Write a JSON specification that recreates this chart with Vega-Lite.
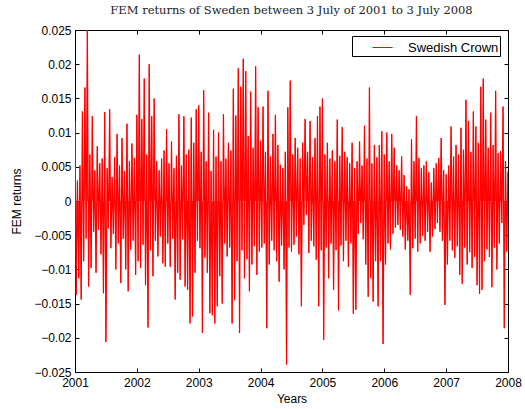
{
"$schema": "https://vega.github.io/schema/vega-lite/v6.json",
"width": 433, "height": 342,
"autosize": {"type": "none"},
"padding": {"left": 75, "top": 30, "right": 17, "bottom": 37},
"background": "white",
"title": {"text": "FEM returns of Sweden between 3 July of 2001 to 3 July 2008", "font": "DejaVu Serif", "fontSize": 11.5, "fontWeight": "normal", "color": "#222222", "offset": 8, "anchor": "middle"},
"config": {
  "view": {"stroke": "black", "strokeWidth": 1},
  "axis": {"domainColor": "black", "domainWidth": 1, "tickColor": "black", "labelColor": "black", "titleColor": "black", "labelFont": "Liberation Sans", "titleFont": "Liberation Sans", "labelFontSize": 12, "titleFontSize": 12, "titleFontWeight": "normal", "grid": false, "tickSize": -4, "labelFlush": false, "labelOverlap": false},
  "legend": {"symbolStrokeColor": "#ff0000"}
},
"data": {"values": [
{"t":2001.00,"r":0.0117},{"t":2001.02,"r":-0.0137},{"t":2001.04,"r":0.003},{"t":2001.06,"r":-0.0113},{"t":2001.08,"r":0.0052},{"t":2001.10,"r":-0.0144},{"t":2001.12,"r":0.0131},{"t":2001.14,"r":-0.0088},{"t":2001.16,"r":0.0166},{"t":2001.18,"r":-0.0055},
{"t":2001.20,"r":0.025},{"t":2001.22,"r":-0.0125},{"t":2001.24,"r":0.0068},{"t":2001.26,"r":-0.0098},{"t":2001.28,"r":0.0124},{"t":2001.30,"r":-0.0045},{"t":2001.32,"r":0.0045},{"t":2001.34,"r":-0.0105},{"t":2001.36,"r":0.008},{"t":2001.38,"r":-0.0042},
{"t":2001.40,"r":0.0055},{"t":2001.42,"r":-0.0078},{"t":2001.44,"r":0.0062},{"t":2001.46,"r":-0.0135},{"t":2001.48,"r":0.013},{"t":2001.50,"r":-0.0206},{"t":2001.52,"r":0.0048},{"t":2001.54,"r":-0.004},{"t":2001.56,"r":0.0134},{"t":2001.58,"r":-0.0069},
{"t":2001.60,"r":0.0035},{"t":2001.62,"r":-0.0048},{"t":2001.64,"r":0.0064},{"t":2001.66,"r":-0.01},{"t":2001.68,"r":0.0098},{"t":2001.70,"r":-0.0062},{"t":2001.72,"r":0.0052},{"t":2001.74,"r":-0.012},{"t":2001.76,"r":0.0092},{"t":2001.78,"r":-0.0055},
{"t":2001.80,"r":0.0044},{"t":2001.82,"r":-0.01},{"t":2001.84,"r":0.0113},{"t":2001.86,"r":-0.0132},{"t":2001.88,"r":0.0058},{"t":2001.90,"r":-0.0071},{"t":2001.92,"r":0.0084},{"t":2001.94,"r":-0.0058},{"t":2001.96,"r":0.0063},{"t":2001.98,"r":-0.0108},
{"t":2002.00,"r":0.0126},{"t":2002.02,"r":-0.0088},{"t":2002.04,"r":0.0214},{"t":2002.06,"r":-0.0098},{"t":2002.08,"r":0.012},{"t":2002.10,"r":-0.0064},{"t":2002.12,"r":0.0179},{"t":2002.14,"r":-0.0123},{"t":2002.16,"r":0.0068},{"t":2002.18,"r":-0.0185},
{"t":2002.20,"r":0.02},{"t":2002.22,"r":-0.0072},{"t":2002.24,"r":0.0124},{"t":2002.26,"r":-0.011},{"t":2002.28,"r":0.015},{"t":2002.30,"r":-0.0058},{"t":2002.32,"r":0.0058},{"t":2002.34,"r":-0.0081},{"t":2002.36,"r":0.0045},{"t":2002.38,"r":-0.0052},
{"t":2002.40,"r":0.0062},{"t":2002.42,"r":-0.0091},{"t":2002.44,"r":0.0074},{"t":2002.46,"r":-0.0096},{"t":2002.48,"r":0.0105},{"t":2002.50,"r":-0.0062},{"t":2002.52,"r":0.0055},{"t":2002.54,"r":-0.0096},{"t":2002.56,"r":0.0087},{"t":2002.58,"r":-0.0055},
{"t":2002.60,"r":0.0048},{"t":2002.62,"r":-0.0144},{"t":2002.64,"r":0.0066},{"t":2002.66,"r":-0.0105},{"t":2002.68,"r":0.0127},{"t":2002.70,"r":-0.0115},{"t":2002.72,"r":0.0052},{"t":2002.74,"r":-0.0056},{"t":2002.76,"r":0.0124},{"t":2002.78,"r":-0.0125},
{"t":2002.80,"r":0.0068},{"t":2002.82,"r":-0.013},{"t":2002.84,"r":0.0075},{"t":2002.86,"r":-0.0179},{"t":2002.88,"r":0.0122},{"t":2002.90,"r":-0.0169},{"t":2002.92,"r":0.0085},{"t":2002.94,"r":-0.0105},{"t":2002.96,"r":0.0134},{"t":2002.98,"r":-0.0058},
{"t":2003.00,"r":0.014},{"t":2003.02,"r":-0.0069},{"t":2003.04,"r":0.0072},{"t":2003.06,"r":-0.0193},{"t":2003.08,"r":0.0162},{"t":2003.10,"r":-0.0083},{"t":2003.12,"r":0.0058},{"t":2003.14,"r":-0.0105},{"t":2003.16,"r":0.0129},{"t":2003.18,"r":-0.0164},
{"t":2003.20,"r":0.0044},{"t":2003.22,"r":-0.0167},{"t":2003.24,"r":0.0104},{"t":2003.26,"r":-0.0179},{"t":2003.28,"r":0.0065},{"t":2003.30,"r":-0.0154},{"t":2003.32,"r":0.01},{"t":2003.34,"r":-0.011},{"t":2003.36,"r":0.0058},{"t":2003.38,"r":-0.015},
{"t":2003.40,"r":0.0127},{"t":2003.42,"r":-0.0062},{"t":2003.44,"r":0.0062},{"t":2003.46,"r":-0.0081},{"t":2003.48,"r":0.0085},{"t":2003.50,"r":-0.0068},{"t":2003.52,"r":0.0074},{"t":2003.54,"r":-0.0179},{"t":2003.56,"r":0.0164},{"t":2003.58,"r":-0.0145},
{"t":2003.60,"r":0.0125},{"t":2003.62,"r":-0.0088},{"t":2003.64,"r":0.0194},{"t":2003.66,"r":-0.0193},{"t":2003.68,"r":0.0167},{"t":2003.70,"r":-0.0072},{"t":2003.72,"r":0.0208},{"t":2003.74,"r":-0.0113},{"t":2003.76,"r":0.019},{"t":2003.78,"r":-0.0085},
{"t":2003.80,"r":0.0095},{"t":2003.82,"r":-0.0132},{"t":2003.84,"r":0.016},{"t":2003.86,"r":-0.0093},{"t":2003.88,"r":0.0078},{"t":2003.90,"r":-0.0066},{"t":2003.92,"r":0.0197},{"t":2003.94,"r":-0.0108},{"t":2003.96,"r":0.0137},{"t":2003.98,"r":-0.0074},
{"t":2004.00,"r":0.0088},{"t":2004.02,"r":-0.0068},{"t":2004.04,"r":0.0138},{"t":2004.06,"r":-0.0062},{"t":2004.08,"r":0.0072},{"t":2004.10,"r":-0.0186},{"t":2004.12,"r":0.0161},{"t":2004.14,"r":-0.0093},{"t":2004.16,"r":0.0065},{"t":2004.18,"r":-0.0058},
{"t":2004.20,"r":0.0098},{"t":2004.22,"r":-0.0072},{"t":2004.24,"r":0.0126},{"t":2004.26,"r":-0.0088},{"t":2004.28,"r":0.0082},{"t":2004.30,"r":-0.0118},{"t":2004.32,"r":0.0053},{"t":2004.34,"r":-0.0065},{"t":2004.36,"r":0.0048},{"t":2004.38,"r":-0.01},
{"t":2004.40,"r":0.0072},{"t":2004.42,"r":-0.0239},{"t":2004.44,"r":0.0137},{"t":2004.46,"r":-0.0068},{"t":2004.48,"r":0.0176},{"t":2004.50,"r":-0.0074},{"t":2004.52,"r":0.0068},{"t":2004.54,"r":-0.0064},{"t":2004.56,"r":0.0092},{"t":2004.58,"r":-0.0052},
{"t":2004.60,"r":0.0078},{"t":2004.62,"r":-0.0078},{"t":2004.64,"r":0.0062},{"t":2004.66,"r":-0.0154},{"t":2004.68,"r":0.0085},{"t":2004.70,"r":-0.0035},{"t":2004.72,"r":0.012},{"t":2004.74,"r":-0.002},{"t":2004.76,"r":0.0072},{"t":2004.78,"r":-0.0076},
{"t":2004.80,"r":0.0117},{"t":2004.82,"r":-0.0058},{"t":2004.84,"r":0.0064},{"t":2004.86,"r":-0.0066},{"t":2004.88,"r":0.0092},{"t":2004.90,"r":-0.0086},{"t":2004.92,"r":0.0124},{"t":2004.94,"r":-0.0154},{"t":2004.96,"r":0.0138},{"t":2004.98,"r":-0.0072},
{"t":2005.00,"r":0.015},{"t":2005.02,"r":-0.0203},{"t":2005.04,"r":0.0068},{"t":2005.06,"r":-0.0068},{"t":2005.08,"r":0.0085},{"t":2005.10,"r":-0.0113},{"t":2005.12,"r":0.0062},{"t":2005.14,"r":-0.0062},{"t":2005.16,"r":0.0074},{"t":2005.18,"r":-0.013},
{"t":2005.20,"r":0.0058},{"t":2005.22,"r":-0.0072},{"t":2005.24,"r":0.0119},{"t":2005.26,"r":-0.016},{"t":2005.28,"r":0.0066},{"t":2005.30,"r":-0.0065},{"t":2005.32,"r":0.0108},{"t":2005.34,"r":-0.0088},{"t":2005.36,"r":0.0072},{"t":2005.38,"r":-0.0058},
{"t":2005.40,"r":0.0064},{"t":2005.42,"r":-0.0096},{"t":2005.44,"r":0.0055},{"t":2005.46,"r":-0.0062},{"t":2005.48,"r":0.0085},{"t":2005.50,"r":-0.0165},{"t":2005.52,"r":0.0048},{"t":2005.54,"r":-0.0159},{"t":2005.56,"r":0.0058},{"t":2005.58,"r":-0.0048},
{"t":2005.60,"r":0.0087},{"t":2005.62,"r":-0.0032},{"t":2005.64,"r":0.0052},{"t":2005.66,"r":-0.0056},{"t":2005.68,"r":0.011},{"t":2005.70,"r":-0.0093},{"t":2005.72,"r":0.0062},{"t":2005.74,"r":-0.014},{"t":2005.76,"r":0.0166},{"t":2005.78,"r":-0.0113},
{"t":2005.80,"r":0.0055},{"t":2005.82,"r":-0.0147},{"t":2005.84,"r":0.0082},{"t":2005.86,"r":-0.0088},{"t":2005.88,"r":0.0064},{"t":2005.90,"r":-0.0154},{"t":2005.92,"r":0.0082},{"t":2005.94,"r":-0.0088},{"t":2005.96,"r":0.0102},{"t":2005.98,"r":-0.0209},
{"t":2006.00,"r":0.0068},{"t":2006.02,"r":-0.0093},{"t":2006.04,"r":0.01},{"t":2006.06,"r":-0.0062},{"t":2006.08,"r":0.0058},{"t":2006.10,"r":-0.0071},{"t":2006.12,"r":0.0098},{"t":2006.14,"r":-0.0048},{"t":2006.16,"r":0.0078},{"t":2006.18,"r":-0.0039},
{"t":2006.20,"r":0.0052},{"t":2006.22,"r":-0.0035},{"t":2006.24,"r":0.0045},{"t":2006.26,"r":-0.0042},{"t":2006.28,"r":0.0065},{"t":2006.30,"r":-0.0052},{"t":2006.32,"r":0.0038},{"t":2006.34,"r":-0.0071},{"t":2006.36,"r":0.0022},{"t":2006.38,"r":-0.0058},
{"t":2006.40,"r":0.0017},{"t":2006.42,"r":-0.0137},{"t":2006.44,"r":0.009},{"t":2006.46,"r":-0.0069},{"t":2006.48,"r":0.0058},{"t":2006.50,"r":-0.0055},{"t":2006.52,"r":0.0124},{"t":2006.54,"r":-0.0074},{"t":2006.56,"r":0.0063},{"t":2006.58,"r":-0.0062},
{"t":2006.60,"r":0.0048},{"t":2006.62,"r":-0.0051},{"t":2006.64,"r":0.0052},{"t":2006.66,"r":-0.0058},{"t":2006.68,"r":0.0058},{"t":2006.70,"r":-0.0045},{"t":2006.72,"r":0.0042},{"t":2006.74,"r":-0.0074},{"t":2006.76,"r":0.0027},{"t":2006.78,"r":-0.0052},
{"t":2006.80,"r":0.0048},{"t":2006.82,"r":-0.0041},{"t":2006.84,"r":0.0055},{"t":2006.86,"r":-0.0032},{"t":2006.88,"r":0.0063},{"t":2006.90,"r":-0.0045},{"t":2006.92,"r":0.0092},{"t":2006.94,"r":-0.0058},{"t":2006.96,"r":0.0045},{"t":2006.98,"r":-0.0152},
{"t":2007.00,"r":0.0039},{"t":2007.02,"r":-0.0093},{"t":2007.04,"r":0.0052},{"t":2007.06,"r":-0.0058},{"t":2007.08,"r":0.0109},{"t":2007.10,"r":-0.0072},{"t":2007.12,"r":0.0065},{"t":2007.14,"r":-0.0083},{"t":2007.16,"r":0.0082},{"t":2007.18,"r":-0.0066},
{"t":2007.20,"r":0.0068},{"t":2007.22,"r":-0.0108},{"t":2007.24,"r":0.0107},{"t":2007.26,"r":-0.0121},{"t":2007.28,"r":0.0075},{"t":2007.30,"r":-0.0068},{"t":2007.32,"r":0.0148},{"t":2007.34,"r":-0.0093},{"t":2007.36,"r":0.0117},{"t":2007.38,"r":-0.0075},
{"t":2007.40,"r":0.0072},{"t":2007.42,"r":-0.0098},{"t":2007.44,"r":0.0131},{"t":2007.46,"r":-0.0082},{"t":2007.48,"r":0.0109},{"t":2007.50,"r":-0.0123},{"t":2007.52,"r":0.0085},{"t":2007.54,"r":-0.0136},{"t":2007.56,"r":0.0167},{"t":2007.58,"r":-0.013},
{"t":2007.60,"r":0.0179},{"t":2007.62,"r":-0.0088},{"t":2007.64,"r":0.0119},{"t":2007.66,"r":-0.0071},{"t":2007.68,"r":0.0078},{"t":2007.70,"r":-0.0082},{"t":2007.72,"r":0.0129},{"t":2007.74,"r":-0.0126},{"t":2007.76,"r":0.0082},{"t":2007.78,"r":-0.0068},
{"t":2007.80,"r":0.0161},{"t":2007.82,"r":-0.01},{"t":2007.84,"r":0.007},{"t":2007.86,"r":-0.0062},{"t":2007.88,"r":0.0073},{"t":2007.90,"r":-0.0032},{"t":2007.92,"r":0.0138},{"t":2007.94,"r":-0.0186},{"t":2007.96,"r":0.0058},{"t":2007.98,"r":-0.0074},
{"t":2008.00,"r":0.0043}
]},
"layer": [
  {"mark": {"type": "rule", "color": "#ff0000", "strokeWidth": 1, "clip": true},
   "encoding": {
     "x": {"field": "t", "type": "quantitative", "scale": {"domain": [2001, 2008], "nice": false, "zero": false},
           "axis": {"orient": "top", "title": null, "labels": false, "values": [2001,2002,2003,2004,2005,2006,2007,2008]}},
     "y": {"field": "r", "type": "quantitative", "scale": {"domain": [-0.025, 0.025], "nice": false, "zero": false},
           "axis": {"orient": "right", "title": null, "labels": false, "values": [-0.025,-0.02,-0.015,-0.01,-0.005,0,0.005,0.01,0.015,0.02,0.025]}},
     "y2": {"datum": 0}
   }},
  {"mark": {"type": "line", "strokeWidth": 1.2, "clip": true, "color": "#ff0000"},
   "encoding": {
     "x": {"field": "t", "type": "quantitative", "scale": {"domain": [2001, 2008], "nice": false, "zero": false},
           "axis": {"orient": "bottom", "title": "Years", "values": [2001,2002,2003,2004,2005,2006,2007,2008], "format": "d", "labelPadding": 9, "titlePadding": 5}},
     "y": {"field": "r", "type": "quantitative", "scale": {"domain": [-0.025, 0.025], "nice": false, "zero": false},
           "axis": {"orient": "left", "title": "FEM returns", "values": [-0.025,-0.02,-0.015,-0.01,-0.005,0,0.005,0.01,0.015,0.02,0.025], "format": "~g", "labelPadding": 8, "titlePadding": 10}},
     "color": {"datum": "Swedish Crown", "type": "nominal", "scale": {"range": ["#ff0000"]},
               "legend": {"title": null, "orient": "none", "legendX": 277, "legendY": 6, "strokeColor": "black", "fillColor": "white", "padding": 1, "symbolType": "stroke", "symbolStrokeColor": "#ff0000", "symbolStrokeWidth": 1, "symbolSize": 400, "symbolOffset": 19, "labelFont": "Liberation Sans", "labelFontSize": 13, "labelColor": "black", "labelOffset": 15, "labelExpr": "datum.label + '\u2002'"}}
   }}
],
"resolve": {"axis": {"x": "independent", "y": "independent"}}
}
